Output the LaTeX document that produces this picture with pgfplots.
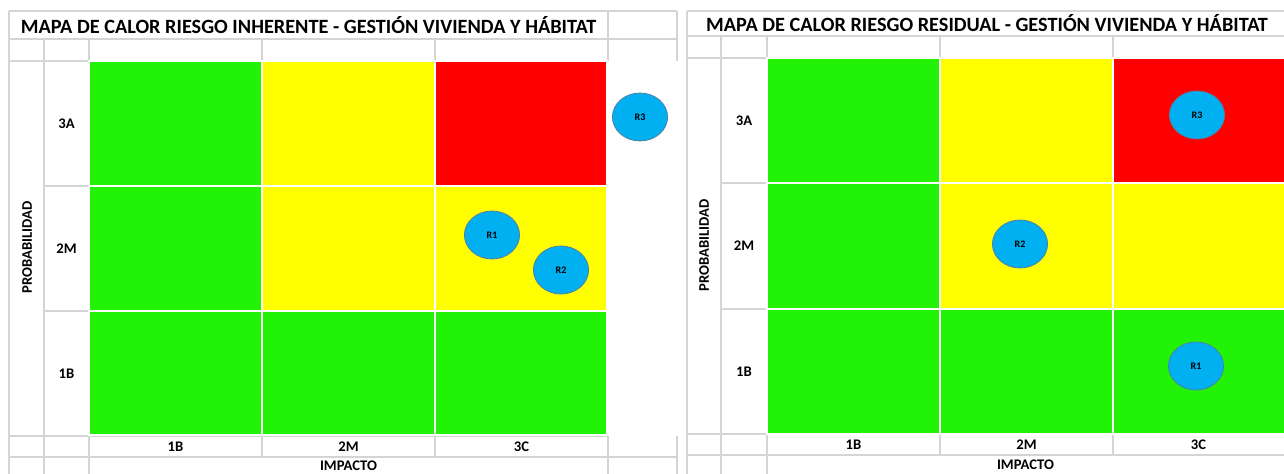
\documentclass[border=0pt]{standalone}
\usepackage{fontspec}
\setmainfont{Carlito}
\usepackage{pgfplots}
\usepackage{pgfplotstable}
\pgfplotsset{compat=1.18}
\definecolor{cgreen}{HTML}{22F205}
\definecolor{cyellow}{HTML}{FFFF00}
\definecolor{cred}{HTML}{FF0000}
\definecolor{cblue}{HTML}{00B0F0}
\definecolor{cedge}{HTML}{4F7FA8}
\definecolor{cgrid}{HTML}{D4D4D4}
\pgfplotstableread{
x y lab
640 117 R3
492 235 R1
561 270 R2
1197 115 R3
1020 244 R2
1196 366 R1
}\risks
\newcommand\cell[5]{\addplot[fill=#1, draw=white, line width=1.5pt] coordinates {(#2,#3) (#4,#3) (#4,#5) (#2,#5)} -- cycle;}
\begin{document}
\begin{tikzpicture}
\begin{axis}[width=963pt, height=355.5pt, scale only axis,
  xmin=0, xmax=1284, ymin=0, ymax=474, y dir=reverse,
  hide axis, clip=false, unbounded coords=jump]
% grid lines left panel
\addplot[cgrid, line width=1.1pt] coordinates {
(9,11) (677,11) (nan,nan)
(9,39) (677,39) (nan,nan)
(9,61) (89,61) (nan,nan)
(44,186) (89,186) (nan,nan)
(44,311) (89,311) (nan,nan)
(9,436) (608,436) (nan,nan)
(9,457) (677,457) (nan,nan)
(9,11) (9,474) (nan,nan)
(44,39) (44,474) (nan,nan)
(89,39) (89,61) (nan,nan)
(262,39) (262,61) (nan,nan)
(435,39) (435,61) (nan,nan)
(608,11) (608,61) (nan,nan)
(677,11) (677,61) (nan,nan)
(89,436) (89,474) (nan,nan)
(262,436) (262,457) (nan,nan)
(435,436) (435,457) (nan,nan)
(608,436) (608,474) (nan,nan)
(677,436) (677,474)
};
% grid lines right panel
\addplot[cgrid, line width=1.1pt] coordinates {
(687,11) (1284,11) (nan,nan)
(687,36) (1284,36) (nan,nan)
(687,58) (767,58) (nan,nan)
(721,183) (767,183) (nan,nan)
(721,309) (767,309) (nan,nan)
(687,434) (1284,434) (nan,nan)
(687,455) (1284,455) (nan,nan)
(687,11) (687,474) (nan,nan)
(721,36) (721,474) (nan,nan)
(767,36) (767,58) (nan,nan)
(940,36) (940,58) (nan,nan)
(1113,36) (1113,58) (nan,nan)
(767,434) (767,474) (nan,nan)
(940,434) (940,455) (nan,nan)
(1113,434) (1113,455)
};
% heat cells left
\cell{cgreen}{89}{61}{262}{186}
\cell{cyellow}{262}{61}{435}{186}
\cell{cred}{435}{61}{607}{186}
\cell{cgreen}{89}{186}{262}{311}
\cell{cyellow}{262}{186}{435}{311}
\cell{cyellow}{435}{186}{607}{311}
\cell{cgreen}{89}{311}{262}{435}
\cell{cgreen}{262}{311}{435}{435}
\cell{cgreen}{435}{311}{607}{435}
% heat cells right
\cell{cgreen}{767}{58}{940}{183}
\cell{cyellow}{940}{58}{1113}{183}
\cell{cred}{1113}{58}{1285}{183}
\cell{cgreen}{767}{183}{940}{309}
\cell{cyellow}{940}{183}{1113}{309}
\cell{cyellow}{1113}{183}{1285}{309}
\cell{cgreen}{767}{309}{940}{434}
\cell{cgreen}{940}{309}{1113}{434}
\cell{cgreen}{1113}{309}{1285}{434}
% risks
\addplot[only marks, mark=*, mark size=18pt,
  mark options={fill=cblue, draw=cedge, line width=0.6pt, xscale=1.15},
  nodes near coords, point meta=explicit symbolic,
  nodes near coords align=center,
  every node near coord/.style={anchor=center, font=\bfseries\fontsize{7.5}{9}\selectfont}]
  table[x=x, y=y, meta=lab] {\risks};
% texts
\tikzset{lbl/.style={font=\bfseries\fontsize{11}{13}\selectfont, inner sep=0pt}}
\node[font=\bfseries\fontsize{15.2}{18}\selectfont] at (axis cs:308.5,25) {MAPA DE CALOR RIESGO INHERENTE - GESTIÓN VIVIENDA Y HÁBITAT};
\node[font=\bfseries\fontsize{15.2}{18}\selectfont] at (axis cs:987,23) {MAPA DE CALOR RIESGO RESIDUAL - GESTIÓN VIVIENDA Y HÁBITAT};
\node[lbl] at (axis cs:66.5,123.5) {3A};
\node[lbl] at (axis cs:66.5,248.5) {2M};
\node[lbl] at (axis cs:66.5,373.5) {1B};
\node[lbl] at (axis cs:744,120.5) {3A};
\node[lbl] at (axis cs:744,246) {2M};
\node[lbl] at (axis cs:744,371.5) {1B};
\node[lbl] at (axis cs:175.5,446.5) {1B};
\node[lbl] at (axis cs:348.5,446.5) {2M};
\node[lbl] at (axis cs:521.5,446.5) {3C};
\node[lbl] at (axis cs:853.5,444.5) {1B};
\node[lbl] at (axis cs:1026.5,444.5) {2M};
\node[lbl] at (axis cs:1198.5,444.5) {3C};
\node[lbl] at (axis cs:348.5,466) {IMPACTO};
\node[lbl] at (axis cs:1025.5,465) {IMPACTO};
\node[lbl, rotate=90] at (axis cs:27,247.5) {PROBABILIDAD};
\node[lbl, rotate=90] at (axis cs:704,245.5) {PROBABILIDAD};
\end{axis}
\pgfresetboundingbox
\path[use as bounding box] (0,0) rectangle (963pt,355.5pt);
\end{tikzpicture}
\end{document}
